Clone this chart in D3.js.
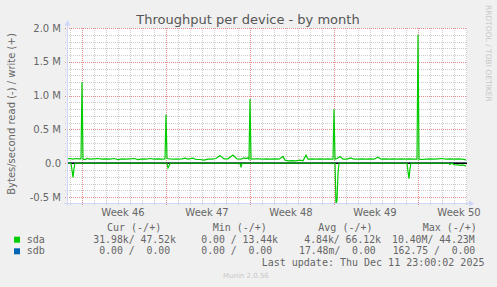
<!DOCTYPE html>
<html><head><meta charset="utf-8">
<script src="https://cdn.jsdelivr.net/npm/d3@7"></script>
<style>html,body{margin:0;padding:0;background:#f0f0f0}svg{display:block}</style>
</head><body>
<svg id="c" width="497" height="287"></svg>
<script>
// ---- data (hours since 2025-11-08 18:00 UTC, values in kB/s) ----
const startTime = "2025-11-08T18:00:00Z";
const spanHours = 800;
const sdaWriteHours = [0,6,12,18,24,28,30,32,36,40,46,54,62,70,78,86,94,102,110,118,126,134,142,150,158,166,174,182,190,196,198,200,206,214,222,230,236,242,252,258,266,274,282,290,298,306,314,322,332,340,348,354,358,362,364,366,368,376,384,392,400,408,416,424,432,436,442,450,458,466,472,478,482,490,498,506,514,522,528,532,534,536,540,546,552,560,568,574,582,590,598,606,614,622,628,636,644,652,660,668,676,684,692,700,702,704,710,718,726,734,742,750,758,766,774,782,790,798];
const sdaWriteK = [65,70,60,70,65,65,1200,60,55,70,60,65,70,60,65,60,70,55,65,60,65,70,55,65,60,70,60,65,60,65,720,70,65,60,60,65,75,60,75,55,55,45,60,60,70,115,65,65,120,65,60,80,70,80,60,950,60,65,65,60,65,60,65,60,100,45,35,40,35,45,35,120,60,65,60,65,60,65,60,60,800,60,70,100,60,60,80,60,60,65,60,65,60,90,60,65,60,65,60,65,60,65,60,60,1900,60,55,60,65,60,65,70,60,65,60,65,60,50];
const sdaReadHours = [0,8,10,12,14,16,200,202,204,206,346,348,350,536,538,540,542,544,680,682,684,686,688,762,766,770,774,782,786,790,796,798];
const sdaReadK = [0,0,100,210,80,0,0,70,40,0,0,60,0,0,600,550,150,0,0,120,230,80,0,0,15,0,20,25,30,25,35,40];
const sdbHours = [0,798];
const sdbReadK = [0,0];
const sdbWriteK = [0,0];
const yTicks = [-0.5,0,0.5,1.0,1.5,2.0];
const yTickLabels = ["-0.5 M","0.0","0.5 M","1.0 M","1.5 M","2.0 M"];
const yMinor = [-0.4,-0.3,-0.2,-0.1,0.1,0.2,0.3,0.4,0.6,0.7,0.8,0.9,1.1,1.2,1.3,1.4,1.6,1.7,1.8,1.9];
const legendHeader = ["Cur (-/+)","Min (-/+)","Avg (-/+)","Max (-/+)"];
const seriesNames = ["sda","sdb"];
const seriesColors = ["#00cc00","#0066b3"];
const sdaStats = ["31.98k/ 47.52k","0.00 / 13.44k","4.84k/ 66.12k","10.40M/ 44.23M"];
const sdbStats = ["0.00 /  0.00","0.00 /  0.00","17.48m/  0.00","162.75 /  0.00"];

const svg = d3.select("#c");
const X0=67, X1=467, YT=28, YB=203;
const t0 = new Date(startTime);
const hour = h => new Date(t0.getTime()+h*3600e3);
const x = d3.scaleUtc().domain([t0, hour(spanHours)]).range([X0,X1]);
const y = d3.scaleLinear().domain([-0.588,2.0]).range([YB,YT]);

svg.append("rect").attr("width",497).attr("height",287).attr("fill","#f0f0f0");
svg.append("rect").attr("x",X0).attr("y",YT).attr("width",X1-X0).attr("height",YB-YT).attr("fill","#fff");

const minorCol = "#cccccc", majorCol = "#e58a8a";
const days = d3.utcDay.range(t0, hour(spanHours)).filter(d=>d.getUTCDay()!==1);
const mondays = d3.utcMonday.range(t0, hour(spanHours));
const grid = svg.append("g").attr("class","grid");
yMinor.forEach(v=>{
  const yy = Math.round(y(v))+0.5;
  grid.append("path").attr("d",`M${X0-2},${yy}H${X1}`)
    .attr("stroke",minorCol).attr("stroke-width",1).attr("fill","none").attr("stroke-dasharray","1,1");
});
days.forEach(d=>{
  const xx = Math.round(x(d))+0.5;
  grid.append("path").attr("d",`M${xx},${YT}V${YB+2}`)
    .attr("stroke",minorCol).attr("stroke-width",1).attr("fill","none").attr("stroke-dasharray","1,1");
});
yTicks.forEach(v=>{
  const yy = Math.round(y(v))+0.5;
  grid.append("path").attr("d",`M${X0-2},${yy}H${X1}`)
    .attr("stroke",majorCol).attr("stroke-width",1).attr("fill","none").attr("stroke-dasharray","1,1");
});
mondays.forEach(d=>{
  const xx = Math.round(x(d))+0.5;
  grid.append("path").attr("d",`M${xx},${YT}V${YB+3}`)
    .attr("stroke",majorCol).attr("stroke-width",1).attr("fill","none").attr("stroke-dasharray","1,1");
});

// labels
const font = "DejaVu Sans, sans-serif";
svg.selectAll("text.yl").data(yTicks).enter().append("text").attr("class","yl")
  .attr("x",61).attr("y",d=>y(d)+3.5).attr("text-anchor","end")
  .attr("font-family",font).attr("font-size",10).attr("fill","#666")
  .text((d,i)=>yTickLabels[i]);
svg.selectAll("text.xl").data(mondays.map(m=>d3.utcHour.offset(m,84)).filter(d=>x(d)>X0&&x(d)<X1+20)).enter().append("text").attr("class","xl")
  .attr("x",d=>x(d)-1).attr("y",216).attr("text-anchor","middle")
  .attr("font-family",font).attr("font-size",10).attr("fill","#666")
  .text(d=>d3.utcFormat("Week %V")(d));

// title
svg.append("text").attr("x",248).attr("y",23.5).attr("text-anchor","middle")
  .attr("font-family",font).attr("font-size",13).attr("fill","#555")
  .text("Throughput per device - by month");
svg.append("text").attr("transform","translate(15,114) rotate(-90)").attr("text-anchor","middle")
  .attr("font-family",font).attr("font-size",10).attr("fill","#666")
  .text("Bytes/second read (-) / write (+)");
svg.append("text").attr("transform","translate(485.5,5) rotate(90)").attr("text-anchor","start")
  .attr("font-family",font).attr("font-size",7.5).attr("fill","#c8c8c8")
  .text("RRDTOOL / TOBI OETIKER");

// data
svg.append("clipPath").attr("id","pc").append("rect").attr("x",X0).attr("y",YT).attr("width",X1-X0).attr("height",YB-YT);
const dg = svg.append("g").attr("clip-path","url(#pc)");
const line = d3.line().x(d=>x(hour(d[0]))).y(d=>y(d[1]/1000));
const sdaRead = sdaReadHours.map((h,i)=>[h,-sdaReadK[i]]);
const sdaWrite = sdaWriteHours.map((h,i)=>[h,sdaWriteK[i]]);
const sdbR = sdbHours.map((h,i)=>[h,-sdbReadK[i]]);
const sdbW = sdbHours.map((h,i)=>[h,sdbWriteK[i]]);
dg.append("path").attr("d",line(sdbR)).attr("fill","none").attr("stroke",seriesColors[1]).attr("stroke-width",1.2);
dg.append("path").attr("d",line(sdbW)).attr("fill","none").attr("stroke",seriesColors[1]).attr("stroke-width",1.2);
dg.append("line").attr("x1",X0).attr("x2",X1).attr("y1",y(0)).attr("y2",y(0)).attr("stroke","#000").attr("stroke-width",1.3);
dg.append("path").attr("d",line(sdaRead)).attr("fill","none").attr("stroke",seriesColors[0]).attr("stroke-width",1.2);
dg.append("path").attr("d",line(sdaWrite)).attr("fill","none").attr("stroke",seriesColors[0]).attr("stroke-width",1.2);

// axes
const axc = "#cfd6f8";
svg.append("line").attr("x1",X0+0.5).attr("x2",X0+0.5).attr("y1",YB+3).attr("y2",YT-6).attr("stroke",axc);
svg.append("line").attr("x1",X0-3).attr("x2",X1+3).attr("y1",YB+0.5).attr("y2",YB+0.5).attr("stroke",axc);
svg.append("path").attr("d",`M${X0-2.5},${YT-2.5}L${X0+3.5},${YT-2.5}L${X0+0.5},${YT-8}Z`).attr("fill",axc);
svg.append("path").attr("d",`M${X1+2},${YB-2.5}L${X1+2},${YB+3.5}L${X1+7},${YB+0.5}Z`).attr("fill",axc);

// legend
const mono = "DejaVu Sans Mono, monospace";
const colX = [107,212.7,318.3,422.7];
svg.selectAll("text.lh").data(legendHeader).enter().append("text").attr("class","lh")
  .attr("x",(d,i)=>colX[i]).attr("y",231).attr("font-family",mono).attr("font-size",10).attr("fill","#666")
  .attr("xml:space","preserve").style("white-space","pre").text(d=>d);
const rowY = [242.7,254.3];
seriesNames.forEach((n,i)=>{
  svg.append("rect").attr("x",14).attr("y",rowY[i]-6).attr("width",6).attr("height",6).attr("fill",seriesColors[i]);
  svg.append("text").attr("x",26.7).attr("y",rowY[i]).attr("font-family",mono).attr("font-size",10).attr("fill","#666").text(n);
});
const sdaX=[93.3,201.3,304.3,392], sdbX=[99.3,201.3,299,392.7];
[sdaStats,sdbStats].forEach((st,i)=>{
  const xs = i===0?sdaX:sdbX;
  st.forEach((s,j)=>svg.append("text").attr("x",xs[j]).attr("y",rowY[i]).attr("font-family",mono).attr("font-size",9.8)
    .attr("fill","#666").attr("xml:space","preserve").style("white-space","pre").text(s));
});
svg.append("text").attr("x",261.7).attr("y",266).attr("font-family",mono).attr("font-size",10).attr("fill","#666")
  .text("Last update: Thu Dec 11 23:00:02 2025");
svg.append("text").attr("x",223).attr("y",278.3).attr("font-family",font).attr("font-size",7).attr("fill","#c8c8c8")
  .text("Munin 2.0.56");
</script>
</body></html>
